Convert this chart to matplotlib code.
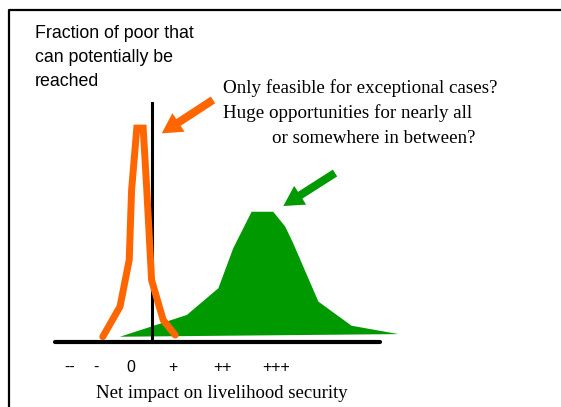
import matplotlib
matplotlib.use('Agg')
import matplotlib.pyplot as plt
from matplotlib.lines import Line2D

# impact scale: 0 sits on the vertical axis, y = fraction of poor reached
narrow_x = [-1.23, -0.80, -0.57, -0.51, -0.38, -0.22, -0.13, -0.01, 0.28, 0.58]
narrow_y = [0.022, 0.148, 0.343, 0.636, 0.895, 0.895, 0.636, 0.259, 0.092, 0.029]

broad_x = [-0.80, 0.87, 1.66, 2.03, 2.49, 3.03, 3.33, 3.53, 4.16, 4.99, 6.16]
broad_y = [0.022, 0.113, 0.225, 0.392, 0.545, 0.545, 0.483, 0.413, 0.169, 0.068, 0.033]

tick_pos = [-2.05, -1.40, -0.525, 0.525, 1.775, 3.10]
tick_labels = ['--', '-', '0', '+', '++', '+++']

ylabel_lines = ['Fraction of poor that', 'can potentially be', 'reached']
question_lines = ['Only feasible for exceptional cases?',
                  'Huge opportunities for nearly all',
                  'or somewhere in between?']

orange = '#FF6600'
green = '#009900'
sans = 'Liberation Sans'
serif = 'Liberation Serif'

fig = plt.figure(figsize=(5.61, 4.07), dpi=100)
ax = fig.add_axes([0, 0, 1, 1])
ax.set_xlim(-3.8, 10.225)
ax.set_ylim(-0.272, 1.431)
ax.axis('off')

# frame (top and left edges only, rest is cropped away)
fig.add_artist(Line2D([9/561, 9/561, 1], [0, 1 - 10/407, 1 - 10/407],
                      transform=fig.transFigure, color='black', lw=1.6))

# axes
ax.plot([-2.43, 5.7], [0, 0], color='black', lw=3, solid_capstyle='round', zorder=1)
ax.plot([0, 0], [0, 1.0], color='black', lw=2.2, zorder=3)

# curves
ax.fill(broad_x, broad_y, color=green, lw=0, zorder=2)
ax.plot(narrow_x, narrow_y, color=orange, lw=5, solid_capstyle='round',
        solid_joinstyle='miter', zorder=4)

# arrows
arrow = 'simple,head_length=0.72,head_width=0.8,tail_width=0.29'
ax.annotate('', xy=(0.243, 0.873), xytext=(1.525, 1.013),
            arrowprops=dict(arrowstyle=arrow, color=orange, lw=0, mutation_scale=20,
                            shrinkA=0, shrinkB=0))
ax.annotate('', xy=(3.283, 0.569), xytext=(4.575, 0.707),
            arrowprops=dict(arrowstyle=arrow, color=green, lw=0, mutation_scale=20,
                            shrinkA=0, shrinkB=0))

# tick labels
for p, lab in zip(tick_pos, tick_labels):
    ax.text(p, -0.105, lab, ha='center', va='center', fontsize=11.5, family=sans)

for i, line in enumerate(ylabel_lines):
    fig.text(35/561, 1 - (38 + 24*i)/407, line, ha='left', va='baseline',
             fontsize=12.8, family=sans)

q_left = [223, 223, 272]
for i, line in enumerate(question_lines):
    fig.text(q_left[i]/561, 1 - (93 + 25*i)/407, line, ha='left', va='baseline',
             fontsize=13.7, family=serif)

fig.text(96/561, 1 - 398/407, 'Net impact on livelihood security',
         ha='left', va='baseline', fontsize=13.5, family=serif)

plt.savefig('out.png', dpi=100)
